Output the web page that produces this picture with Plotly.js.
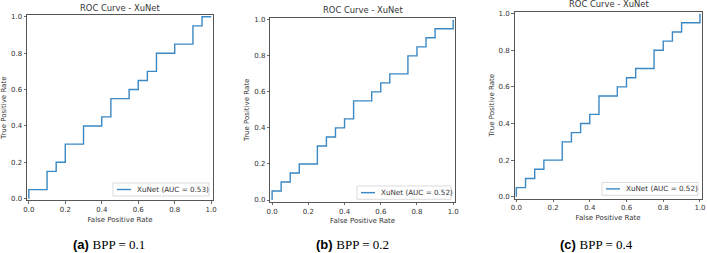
<!DOCTYPE html>
<html>
<head>
<meta charset="utf-8">
<script src="https://cdn.plot.ly/plotly-3.0.1.min.js"></script>
<style>
  html, body { margin: 0; padding: 0; background: #fff; }
  #chart { width: 707px; height: 253px; }
</style>
</head>
<body>
<div id="chart"></div>
<script>
// ROC operating points (false positive rate, true positive rate) for XuNet
// at three embedding rates.
const fprA = [0, 0, 0.1, 0.1, 0.15, 0.15, 0.2, 0.2, 0.3, 0.3, 0.4, 0.4, 0.45, 0.45, 0.55, 0.55, 0.6, 0.6, 0.65, 0.65, 0.7, 0.7, 0.8, 0.8, 0.9, 0.9, 0.95, 0.95, 1];
const tprA = [0, 0.05, 0.05, 0.15, 0.15, 0.2, 0.2, 0.3, 0.3, 0.4, 0.4, 0.45, 0.45, 0.55, 0.55, 0.6, 0.6, 0.65, 0.65, 0.7, 0.7, 0.8, 0.8, 0.85, 0.85, 0.95, 0.95, 1, 1];

const fprB = [0, 0, 0.05, 0.05, 0.1, 0.1, 0.15, 0.15, 0.25, 0.25, 0.3, 0.3, 0.35, 0.35, 0.4, 0.4, 0.45, 0.45, 0.55, 0.55, 0.6, 0.6, 0.65, 0.65, 0.75, 0.75, 0.8, 0.8, 0.85, 0.85, 0.9, 0.9, 1, 1];
const tprB = [0, 0.05, 0.05, 0.1, 0.1, 0.15, 0.15, 0.2, 0.2, 0.3, 0.3, 0.35, 0.35, 0.4, 0.4, 0.45, 0.45, 0.55, 0.55, 0.6, 0.6, 0.65, 0.65, 0.7, 0.7, 0.8, 0.8, 0.85, 0.85, 0.9, 0.9, 0.95, 0.95, 1];

const fprC = [0, 0, 0.05, 0.05, 0.1, 0.1, 0.15, 0.15, 0.25, 0.25, 0.3, 0.3, 0.35, 0.35, 0.4, 0.4, 0.45, 0.45, 0.55, 0.55, 0.6, 0.6, 0.65, 0.65, 0.75, 0.75, 0.8, 0.8, 0.85, 0.85, 0.9, 0.9, 1, 1];
const tprC = [0, 0.05, 0.05, 0.1, 0.1, 0.15, 0.15, 0.2, 0.2, 0.3, 0.3, 0.35, 0.35, 0.4, 0.4, 0.45, 0.45, 0.55, 0.55, 0.6, 0.6, 0.65, 0.65, 0.7, 0.7, 0.8, 0.8, 0.85, 0.85, 0.9, 0.9, 0.95, 0.95, 1];

const panelLetters = ['a', 'b', 'c'];
const bppValues = ['0.1', '0.2', '0.4'];
const tickVals = [0, 0.2, 0.4, 0.6, 0.8, 1.0];
const modelName = 'XuNet';

// Trapezoidal area under the ROC curve.
function auc(x, y) {
  let s = 0;
  for (let i = 1; i < x.length; i++) s += (x[i] - x[i - 1]) * (y[i] + y[i - 1]) / 2;
  return s;
}

const W = 707, H = 253;
const FONT = 'DejaVu Sans, sans-serif';
const TXT = '#333333';
const BLUE = '#3a88c4';
const px = v => v / W;          // pixel x -> paper
const py = v => 1 - v / H;      // pixel y -> paper

// Plot frames in pixels: [left, right, top, bottom]
const frames = [
  [27, 213, 15, 200.5],
  [270.3, 455, 18, 201.8],
  [514.5, 701.8, 11.8, 198.6]
];
// Legend boxes in pixels: [left, right, top, bottom]
const legendBox = [
  [113, 209, 183, 196],
  [357, 451, 186, 199.3],
  [602, 698, 182.5, 195.3]
];
// Subplot title centres [x, y] and caption centres
const titlePos = [[120, 7.5], [362.5, 10.5], [609, 4]];
const captionPos = [[108.5, 244], [352.5, 244], [596.5, 244]];

const series = [[fprA, tprA], [fprB, tprB], [fprC, tprC]];

const traces = [];
const layout = {
  width: W, height: H,
  margin: {l: 0, r: 0, t: 0, b: 0},
  paper_bgcolor: '#ffffff',
  plot_bgcolor: '#ffffff',
  font: {family: FONT, color: TXT, size: 7},
  annotations: [],
  shapes: [],
  showlegend: false
};

series.forEach(([fpr, tpr], i) => {
  const sfx = i === 0 ? '' : String(i + 1);
  const [l, r, t, b] = frames[i];
  const name = modelName + ' (AUC = ' + auc(fpr, tpr).toFixed(2) + ')';
  traces.push({
    x: fpr, y: tpr,
    xaxis: 'x' + sfx, yaxis: 'y' + sfx,
    type: 'scatter', mode: 'lines',
    line: {color: BLUE, width: 1.4},
    name: name,
    hoverinfo: 'skip'
  });

  const axCommon = {
    range: [-0.01, 1.01],
    tickvals: tickVals,
    tickformat: '.1f',
    ticks: 'outside', ticklen: 2.5, tickwidth: 0.8, tickcolor: '#444',
    showline: true, linecolor: '#444', linewidth: 0.9, mirror: true,
    showgrid: false, zeroline: false,
    tickfont: {family: FONT, size: 7, color: TXT},
    fixedrange: true
  };
  layout['xaxis' + sfx] = Object.assign({}, axCommon, {
    domain: [px(l), px(r)],
    anchor: 'y' + sfx,
    title: {text: 'False Positive Rate', font: {family: FONT, size: 7, color: TXT}, standoff: 3}
  });
  layout['yaxis' + sfx] = Object.assign({}, axCommon, {
    domain: [py(b), py(t)],
    anchor: 'x' + sfx,
    title: {text: 'True Positive Rate', font: {family: FONT, size: 7, color: TXT}, standoff: 3}
  });

  // Legend: framed box, line sample and label
  const [ll, lr, lt, lb] = legendBox[i];
  const lmid = (lt + lb) / 2;
  layout.shapes.push({
    type: 'rect', xref: 'paper', yref: 'paper',
    x0: px(ll), x1: px(lr), y0: py(lb), y1: py(lt),
    line: {color: '#d2d2d2', width: 0.8},
    fillcolor: 'rgba(255,255,255,0.85)',
    layer: 'above'
  });
  layout.shapes.push({
    type: 'line', xref: 'paper', yref: 'paper',
    x0: px(ll + 4), x1: px(ll + 18), y0: py(lmid), y1: py(lmid),
    line: {color: BLUE, width: 1.4},
    layer: 'above'
  });
  layout.annotations.push({
    text: name,
    xref: 'paper', yref: 'paper',
    x: px(ll + 22), y: py(lmid),
    xanchor: 'left', yanchor: 'middle',
    showarrow: false,
    font: {family: FONT, size: 7.2, color: TXT}
  });

  layout.annotations.push({
    text: 'ROC Curve - ' + modelName,
    xref: 'paper', yref: 'paper',
    x: px(titlePos[i][0]), y: py(titlePos[i][1]),
    xanchor: 'center', yanchor: 'middle',
    showarrow: false,
    font: {family: FONT, size: 8.4, color: TXT}
  });
  layout.annotations.push({
    text: '<b>(' + panelLetters[i] + ')</b> <span style="font-family:\'Liberation Serif\', serif;font-weight:normal">BPP = ' + bppValues[i] + '</span>',
    xref: 'paper', yref: 'paper',
    x: px(captionPos[i][0]), y: py(captionPos[i][1]),
    xanchor: 'center', yanchor: 'middle',
    showarrow: false,
    font: {family: 'Liberation Sans, Arial, sans-serif', size: 13, color: '#000000'}
  });
});

Plotly.newPlot('chart', traces, layout, {staticPlot: true, displayModeBar: false});
</script>
</body>
</html>
